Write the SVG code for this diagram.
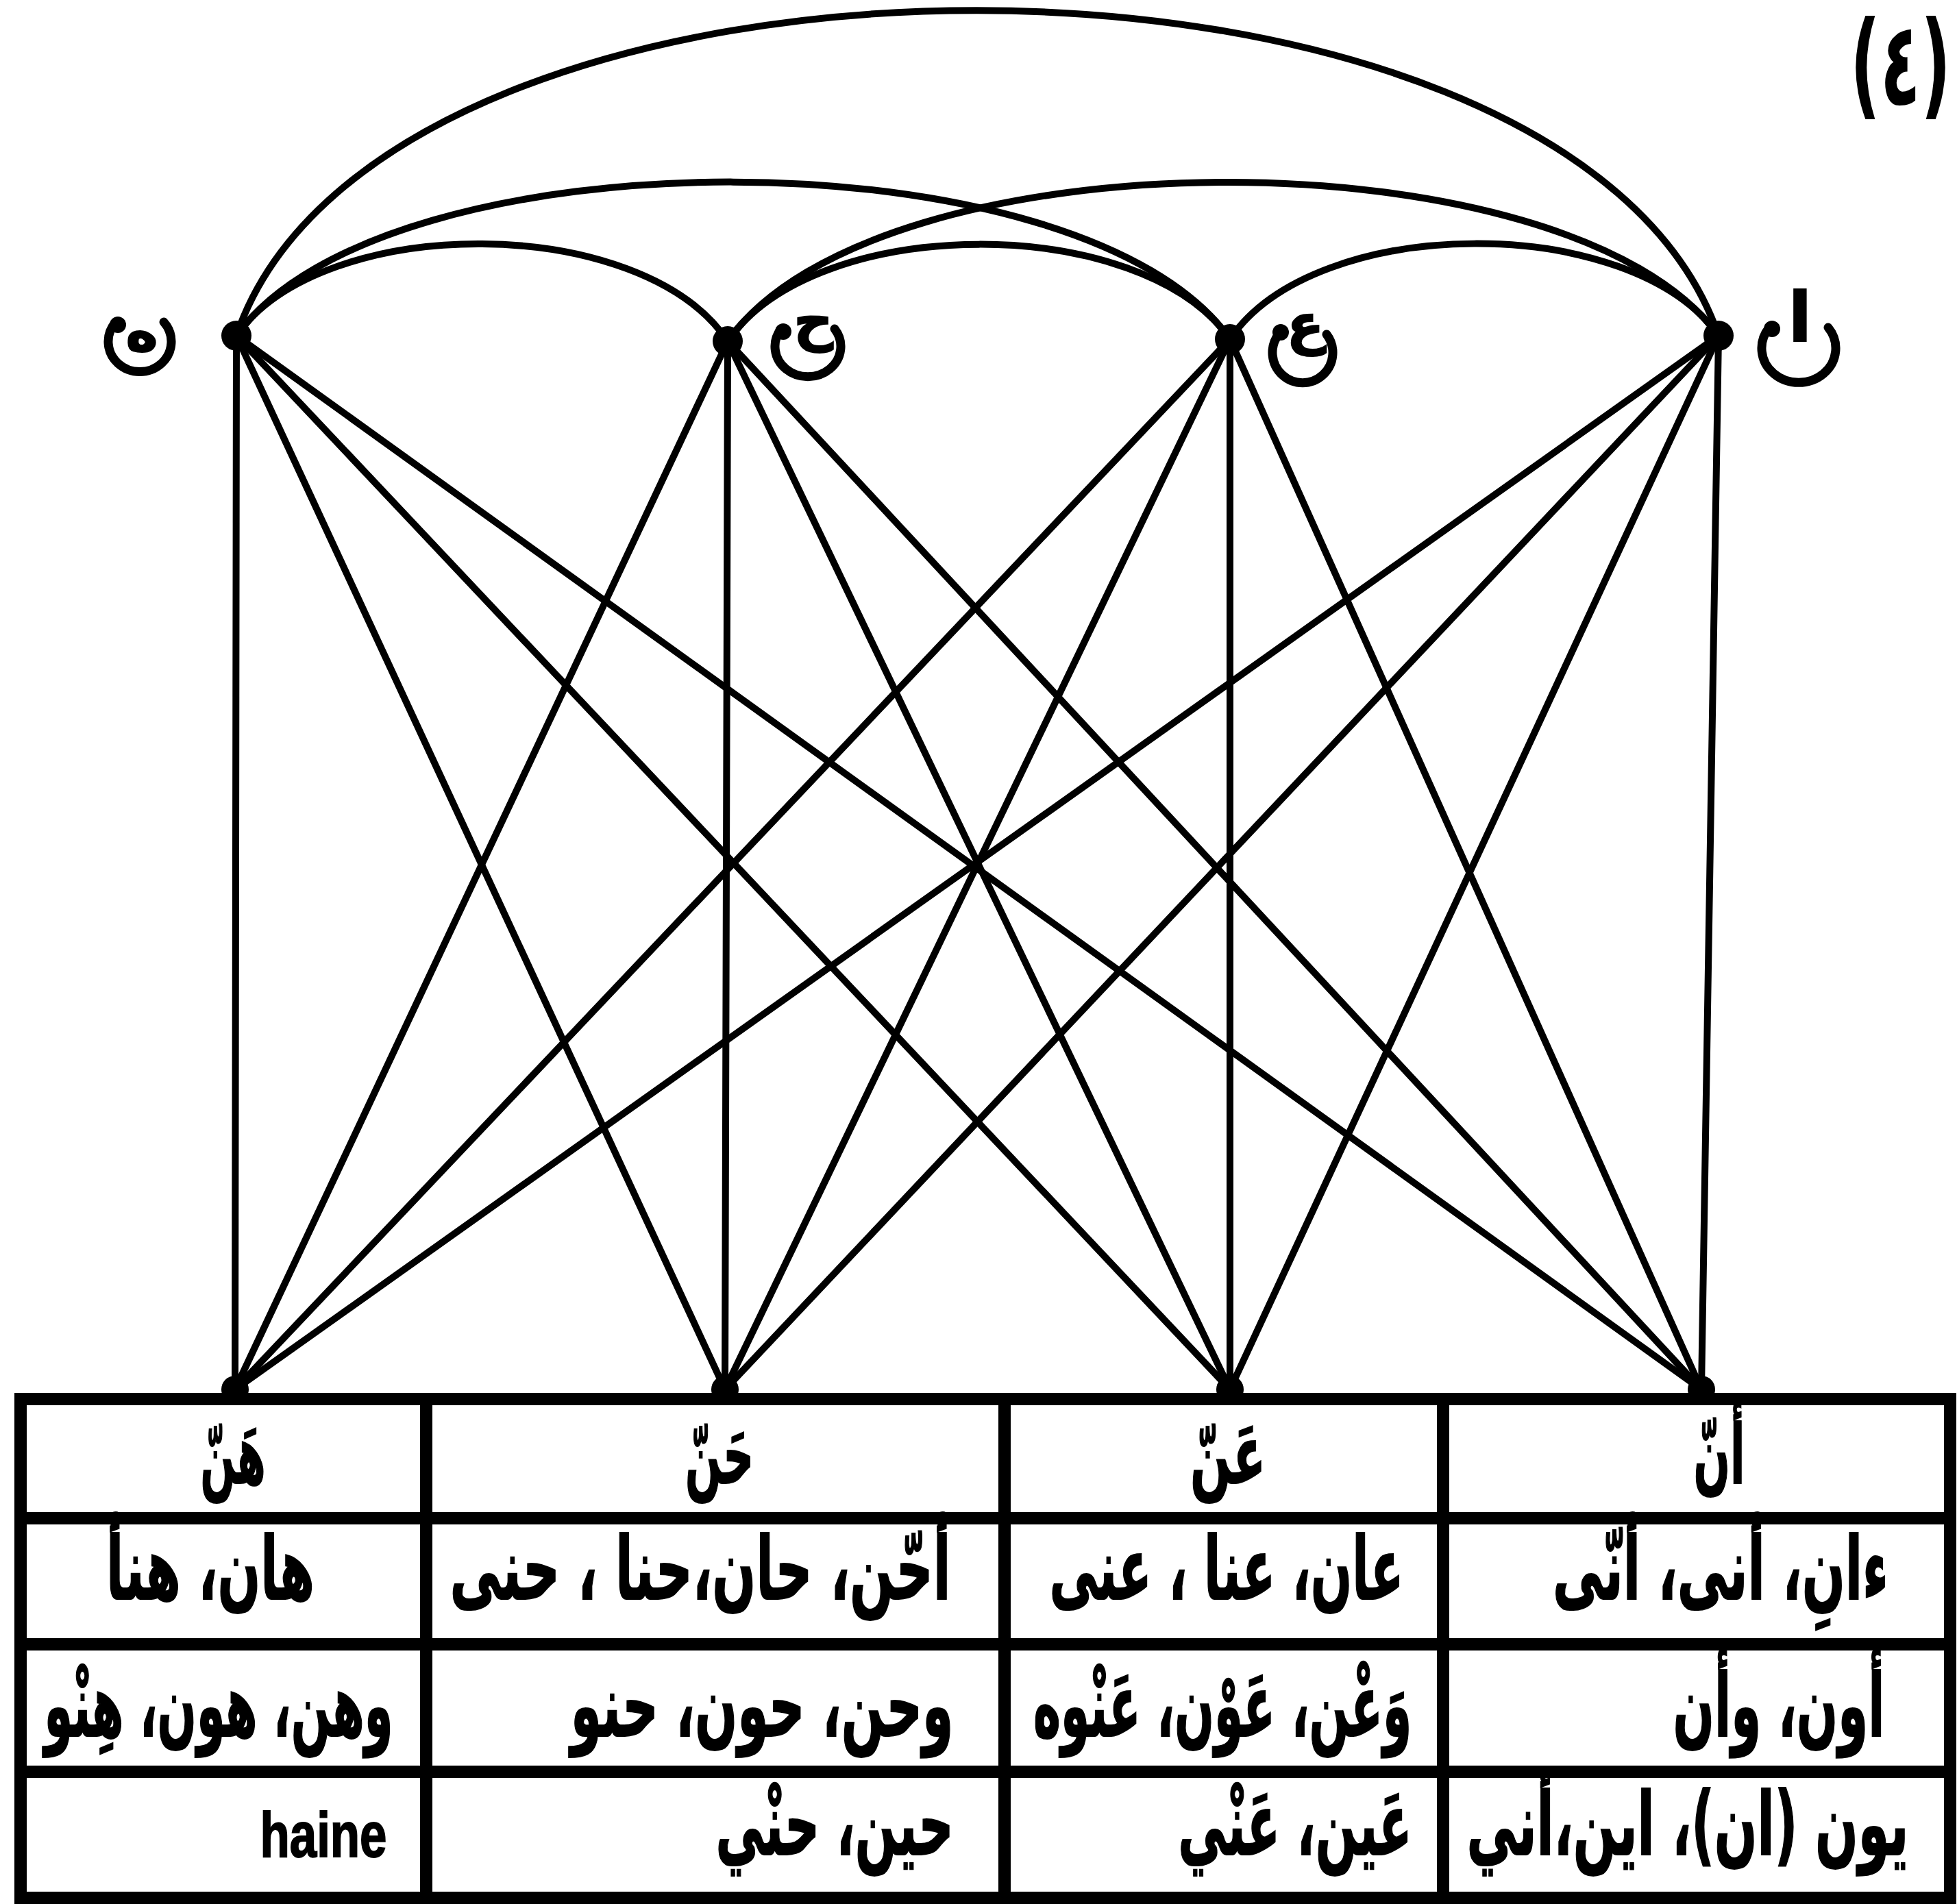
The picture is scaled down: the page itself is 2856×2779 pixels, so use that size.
<svg xmlns="http://www.w3.org/2000/svg" width="2856" height="2779" viewBox="0 0 2856 2779">
<style>
.e{stroke:#000;stroke-width:10;fill:none;stroke-linecap:round}
.lab{stroke:#000;stroke-width:13;fill:none;stroke-linecap:round}
.g{stroke:#000;stroke-width:18;stroke-linecap:square}
.t{font-family:"DejaVu Sans",sans-serif;font-weight:bold;text-anchor:middle;fill:#000;stroke:#000;stroke-width:2}
.h{font-size:120px}
.r{font-size:128px}
.l{font-size:80px}
</style>
<rect width="2856" height="2779" fill="#fff"/>
<text transform="translate(2700,152) scale(0.6,1)" textLength="245" lengthAdjust="spacingAndGlyphs" style="font-family:'DejaVu Sans',sans-serif;font-weight:bold;font-size:170px">(٤)</text>
<g id="connectors">
<path class="e" d="M345,490 C560,-143 2290,-143 2508,490"/>
<path class="e" d="M345,490 C560,190 1580,190 1795,495"/>
<path class="e" d="M1062,498 C1280,190 2290,190 2508,490"/>
<path class="e" d="M345,490 C470,310 937,310 1062,498"/>
<path class="e" d="M1062,498 C1190,310 1667,310 1795,495"/>
<path class="e" d="M1795,495 C1920,310 2383,310 2508,490"/>
<line class="e" x1="345" y1="490" x2="343" y2="2028"/>
<line class="e" x1="345" y1="490" x2="1058" y2="2028"/>
<line class="e" x1="345" y1="490" x2="1795" y2="2028"/>
<line class="e" x1="345" y1="490" x2="2483" y2="2028"/>
<line class="e" x1="1062" y1="498" x2="343" y2="2028"/>
<line class="e" x1="1062" y1="498" x2="1058" y2="2028"/>
<line class="e" x1="1062" y1="498" x2="1795" y2="2028"/>
<line class="e" x1="1062" y1="498" x2="2483" y2="2028"/>
<line class="e" x1="1795" y1="495" x2="343" y2="2028"/>
<line class="e" x1="1795" y1="495" x2="1058" y2="2028"/>
<line class="e" x1="1795" y1="495" x2="1795" y2="2028"/>
<line class="e" x1="1795" y1="495" x2="2483" y2="2028"/>
<line class="e" x1="2508" y1="490" x2="343" y2="2028"/>
<line class="e" x1="2508" y1="490" x2="1058" y2="2028"/>
<line class="e" x1="2508" y1="490" x2="1795" y2="2028"/>
<line class="e" x1="2508" y1="490" x2="2483" y2="2028"/>
</g>
<g id="node-h">
<circle cx="345" cy="490" r="22"/>
<path class="lab" d="M169,470 A46,44 0 1 0 239,470"/><circle cx="172" cy="474" r="12"/>
<text class="t l" x="207" y="512">ه</text>
</g>
<g id="node-ha">
<circle cx="1062" cy="498" r="22"/>
<path class="lab" d="M1140,480 A48,44 0 1 0 1218,480"/><circle cx="1143" cy="484" r="12"/>
<text class="t l" x="1187" y="495">ح</text>
</g>
<g id="node-ain">
<circle cx="1795" cy="495" r="22"/>
<path class="lab" d="M1866,488 A44,44 0 1 0 1936,488"/><circle cx="1869" cy="485" r="12"/>
<text class="t l" x="1905" y="500">ع</text>
</g>
<g id="node-alif">
<circle cx="2508" cy="490" r="22"/>
<path class="lab" d="M2582,478 A54,50 0 1 0 2668,478"/><circle cx="2586" cy="480" r="12"/>
<text class="t" x="2627" y="498" style="font-size:100px">ا</text>
</g>
<g id="bottom-nodes">
<circle cx="343" cy="2028" r="20"/>
<circle cx="1058" cy="2028" r="20"/>
<circle cx="1795" cy="2028" r="20"/>
<circle cx="2483" cy="2028" r="20"/>
</g>
<g id="table">
<line class="g" x1="30" y1="2042" x2="2846" y2="2042"/>
<line class="g" x1="30" y1="2216" x2="2846" y2="2216"/>
<line class="g" x1="30" y1="2400" x2="2846" y2="2400"/>
<line class="g" x1="30" y1="2586" x2="2846" y2="2586"/>
<line class="g" x1="30" y1="2770" x2="2846" y2="2770"/>
<line class="g" x1="30" y1="2042" x2="30" y2="2770"/>
<line class="g" x1="622" y1="2042" x2="622" y2="2770"/>
<line class="g" x1="1466" y1="2042" x2="1466" y2="2770"/>
<line class="g" x1="2106" y1="2042" x2="2106" y2="2770"/>
<line class="g" x1="2846" y1="2042" x2="2846" y2="2770"/>
<g direction="rtl">
<text class="t h" transform="translate(340,2165) scale(0.72,1)" textLength="132" lengthAdjust="spacingAndGlyphs">هَنّ</text>
<text class="t h" transform="translate(1050,2165) scale(0.72,1)" textLength="139" lengthAdjust="spacingAndGlyphs">حَنّ</text>
<text class="t h" transform="translate(1792,2165) scale(0.72,1)" textLength="153" lengthAdjust="spacingAndGlyphs">عَنّ</text>
<text class="t h" transform="translate(2509,2165) scale(0.72,1)" textLength="104" lengthAdjust="spacingAndGlyphs">أنّ</text>
<text class="t r" transform="translate(307,2334) scale(0.72,1)" textLength="422" lengthAdjust="spacingAndGlyphs">هان، هنأ</text>
<text class="t r" transform="translate(1022,2334) scale(0.72,1)" textLength="1015" lengthAdjust="spacingAndGlyphs">أحّن، حان،حنا ، حنى</text>
<text class="t r" transform="translate(1790,2334) scale(0.72,1)" textLength="718" lengthAdjust="spacingAndGlyphs">عان، عنا ، عنى</text>
<text class="t r" transform="translate(2511,2334) scale(0.62,1)" textLength="790" lengthAdjust="spacingAndGlyphs">ءانِ، أنى، أنّى</text>
<text class="t r" transform="translate(319,2534) scale(0.72,1)" textLength="707" lengthAdjust="spacingAndGlyphs">وهن، هون، هِنْو</text>
<text class="t r" transform="translate(1112,2534) scale(0.72,1)" textLength="776" lengthAdjust="spacingAndGlyphs">وحن، حون، حنو</text>
<text class="t r" transform="translate(1784,2534) scale(0.72,1)" textLength="767" lengthAdjust="spacingAndGlyphs">وَعْن، عَوْن، عَنْوه</text>
<text class="t r" transform="translate(2596,2534) scale(0.72,1)" textLength="429" lengthAdjust="spacingAndGlyphs">أون، وأن</text>
<text class="t r" transform="translate(1218,2707) scale(0.72,1)" textLength="482" lengthAdjust="spacingAndGlyphs">حين، حنْي</text>
<text class="t r" transform="translate(1890,2707) scale(0.72,1)" textLength="474" lengthAdjust="spacingAndGlyphs">عَين، عَنْي</text>
<text class="t r" transform="translate(2463,2707) scale(0.62,1)" textLength="1040" lengthAdjust="spacingAndGlyphs">يون (ان)، اين،أني</text>
</g>
<text transform="translate(472,2710) scale(0.77,1)" style="font-family:'Liberation Sans',sans-serif;font-weight:bold;font-size:92px;text-anchor:middle;stroke:#000;stroke-width:2">haine</text>
</g>
</svg>
